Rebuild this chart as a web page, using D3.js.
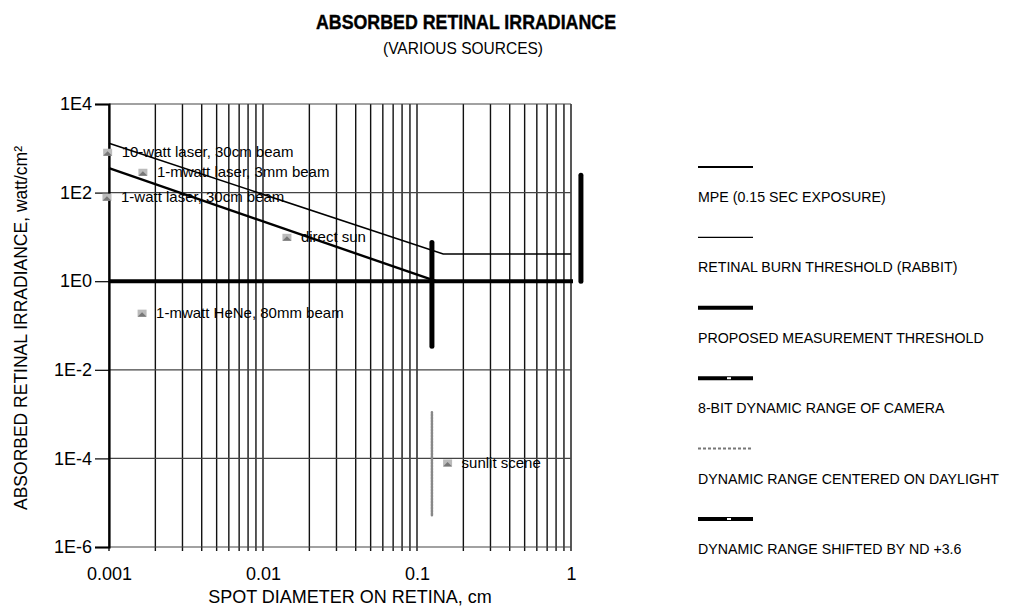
<!DOCTYPE html>
<html>
<head>
<meta charset="utf-8">
<script src="https://cdn.jsdelivr.net/npm/d3@7"></script>
<style>
  body { margin: 0; background: #fff; }
  text { font-family: "Liberation Sans", Arial, sans-serif; fill: #000; }
</style>
</head>
<body>
<div id="chart"></div>
<script>
// values
var xTicks = [0.001, 0.01, 0.1, 1];
var xTickLabels = ["0.001", "0.01", "0.1", "1"];
var yTicks = [1e4, 1e2, 1e0, 1e-2, 1e-4, 1e-6];
var yTickLabels = ["1E4", "1E2", "1E0", "1E-2", "1E-4", "1E-6"];

// sloped lines
var burnX = [0.001, 0.148, 1];
var burnY = [1300, 4.1, 4.1];
var mpeX = [0.001, 0.133];
var mpeY = [355, 1];
var thresholdY = 1;

// vertical range bars
var barNames = ["camera", "daylight", "nd"];
var barX = [0.125, 0.125, 1.16];
var barLo = [0.034, 5.2e-6, 1];
var barHi = [7.5, 1.1e-3, 245];

// labelled sources
var srcNames = ["10-watt laser, 30cm beam", "1-mwatt laser, 3mm beam", "1-watt laser, 30cm beam",
                "direct sun", "1-mwatt HeNe, 80mm beam", "sunlit scene"];
var srcX = [0.00098, 0.00166, 0.00097, 0.0143, 0.00164, 0.158];
var srcY = [815, 288, 79, 9.8, 0.19, 7.9e-5];

var legendLabels = ["MPE (0.15 SEC EXPOSURE)", "RETINAL BURN THRESHOLD (RABBIT)",
                    "PROPOSED MEASUREMENT THRESHOLD", "8-BIT DYNAMIC RANGE OF CAMERA",
                    "DYNAMIC RANGE CENTERED ON DAYLIGHT", "DYNAMIC RANGE SHIFTED BY ND +3.6"];

var W = 1019, H = 608;
var margin = {top: 104, left: 109};
var width = 462, height = 443;

var svg = d3.select("#chart").append("svg")
  .attr("width", W)
  .attr("height", H);

// title
svg.append("text").attr("x", 466).attr("y", 29).attr("text-anchor", "middle")
  .attr("textLength", 300).attr("lengthAdjust", "spacingAndGlyphs")
  .style("font-size", "20.5px").style("font-weight", "bold")
  .attr("stroke", "#000").attr("stroke-width", 0.4)
  .text("ABSORBED RETINAL IRRADIANCE");
svg.append("text").attr("x", 463).attr("y", 54).attr("text-anchor", "middle")
  .attr("textLength", 160).attr("lengthAdjust", "spacingAndGlyphs")
  .style("font-size", "16.5px").text("(VARIOUS SOURCES)");

var g = svg.append("g")
  .attr("transform", "translate(" + margin.left + "," + margin.top + ")");

var x = d3.scaleLog().domain([0.001, 1]).range([0, width]);
var y = d3.scaleLog().domain([1e-6, 1e4]).range([height, 0]);

// vertical grid: 1..9 in each decade
var xGrid = [];
[0.001, 0.01, 0.1].forEach(function(d) {
  for (var i = 1; i < 10; i++) xGrid.push(d * i);
});
xGrid.push(1);

g.selectAll(".vgrid").data(xGrid).enter().append("line")
  .attr("class", "vgrid")
  .attr("x1", function(d) { return x(d); })
  .attr("x2", function(d) { return x(d); })
  .attr("y1", 0).attr("y2", height + 4)
  .attr("stroke", "#111").attr("stroke-width", 1.4);

// horizontal grid at major ticks
g.selectAll(".hgrid").data(yTicks).enter().append("line")
  .attr("class", "hgrid")
  .attr("x1", 0).attr("x2", width)
  .attr("y1", function(d) { return y(d); })
  .attr("y2", function(d) { return y(d); })
  .attr("stroke", "#444").attr("stroke-width", 1.2);

// axes
var yAxis = d3.axisLeft(y).tickValues(yTicks).tickSize(14)
  .tickFormat(function(d, i) { return yTickLabels[i]; });
var gy = g.append("g").call(yAxis);
gy.select(".domain").attr("stroke-width", 2.2);
gy.selectAll(".tick line").attr("stroke-width", 1.2);
gy.selectAll(".tick text").style("font-size", "18px").attr("x", -17);

var xAxis = d3.axisBottom(x).tickValues(xTicks).tickSize(0).tickPadding(20)
  .tickFormat(function(d, i) { return xTickLabels[i]; });
var gx = g.append("g").attr("transform", "translate(0," + height + ")").call(xAxis);
gx.select(".domain").remove();
gx.selectAll(".tick text").style("font-size", "18px");

// axis titles
svg.append("text")
  .attr("transform", "translate(27,328) rotate(-90)")
  .attr("text-anchor", "middle").style("font-size", "17.5px")
  .text("ABSORBED RETINAL IRRADIANCE, watt/cm²");
svg.append("text").attr("x", 350).attr("y", 603)
  .attr("text-anchor", "middle").style("font-size", "18px")
  .text("SPOT DIAMETER ON RETINA, cm");

var line = d3.line()
  .x(function(d) { return x(d[0]); })
  .y(function(d) { return y(d[1]); });

// burn threshold (thin)
g.append("path").datum(d3.zip(burnX, burnY)).attr("d", line)
  .attr("fill", "none").attr("stroke", "#000").attr("stroke-width", 1.6);
// MPE
g.append("path").datum(d3.zip(mpeX, mpeY)).attr("d", line)
  .attr("fill", "none").attr("stroke", "#000").attr("stroke-width", 2.4);
// measurement threshold
g.append("line")
  .attr("x1", 0).attr("x2", width + 2)
  .attr("y1", y(thresholdY)).attr("y2", y(thresholdY))
  .attr("stroke", "#000").attr("stroke-width", 4);

// range bars
var barStroke = ["#000", "#888", "#000"];
var barWidth = [5, 2.5, 5];
var barDash = [null, "2,1", null];
g.selectAll(".rbar").data(barNames).enter().append("line")
  .attr("class", "rbar")
  .attr("x1", function(d, i) { return x(barX[i]); })
  .attr("x2", function(d, i) { return x(barX[i]); })
  .attr("y1", function(d, i) { return y(barLo[i]); })
  .attr("y2", function(d, i) { return y(barHi[i]); })
  .attr("stroke", function(d, i) { return barStroke[i]; })
  .attr("stroke-width", function(d, i) { return barWidth[i]; })
  .attr("stroke-dasharray", function(d, i) { return barDash[i]; })
  .attr("stroke-linecap", "round");

// source markers + labels
var src = g.selectAll(".src").data(srcNames).enter().append("g")
  .attr("class", "src")
  .attr("transform", function(d, i) { return "translate(" + x(srcX[i]) + "," + y(srcY[i]) + ")"; });
src.append("rect").attr("x", -4.5).attr("y", -3.5).attr("width", 9).attr("height", 7)
  .attr("fill", "#bbb");
src.append("path").attr("d", "M-4.5,3.5 L0,-1 L4.5,3.5 Z").attr("fill", "#777");
src.append("text").attr("x", 14).attr("y", 5)
  .style("font-size", "15px")
  .text(function(d) { return d; });

// legend
var legX = 698, legY0 = 167, legStep = 70.4;
var legWidth = [2, 1.4, 4, 4, 2, 4];
var legColor = ["#000", "#000", "#000", "#000", "#777", "#000"];
var legDash = [null, null, null, null, "3,2", null];
var leg = svg.selectAll(".leg").data(legendLabels).enter().append("g")
  .attr("class", "leg")
  .attr("transform", function(d, i) { return "translate(" + legX + "," + (legY0 + i * legStep) + ")"; });
leg.append("line").attr("x1", 0).attr("x2", 55).attr("y1", 0).attr("y2", 0)
  .attr("stroke", function(d, i) { return legColor[i]; })
  .attr("stroke-width", function(d, i) { return legWidth[i]; })
  .attr("stroke-dasharray", function(d, i) { return legDash[i]; });
leg.filter(function(d, i) { return i === 3 || i === 5; }).append("rect")
  .attr("x", 29).attr("y", -1).attr("width", 4).attr("height", 2).attr("fill", "#fff");
leg.append("text").attr("x", 0).attr("y", 35)
  .style("font-size", "14.2px")
  .text(function(d) { return d; });
</script>
</body>
</html>
